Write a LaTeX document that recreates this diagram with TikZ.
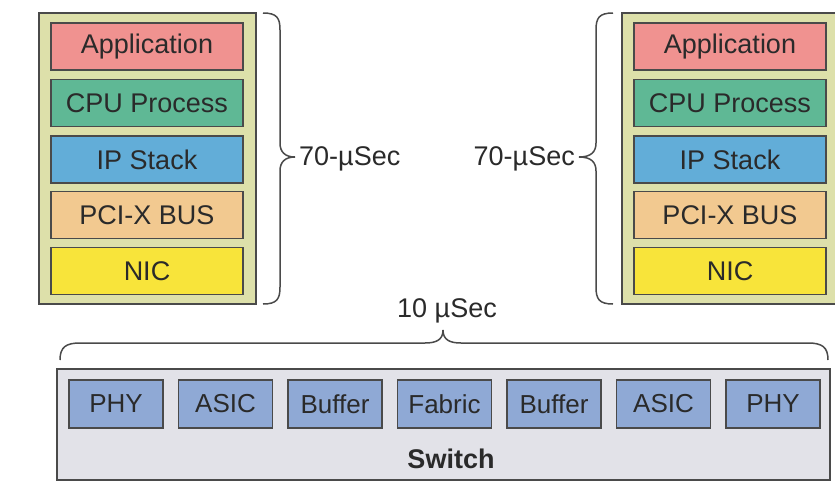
\documentclass[tikz,border=0pt]{standalone}
\usepackage{fontspec}
\setmainfont{Liberation Sans}
\definecolor{edge}{HTML}{4A4A4A}
\definecolor{stackbg}{HTML}{DDE0AA}
\definecolor{appc}{HTML}{F09290}
\definecolor{cpuc}{HTML}{5FB895}
\definecolor{ipc}{HTML}{62ADD8}
\definecolor{pcic}{HTML}{F2C990}
\definecolor{nicc}{HTML}{F8E43A}
\definecolor{swbg}{HTML}{E2E2E8}
\definecolor{swpart}{HTML}{8FA9D5}
\definecolor{txt}{HTML}{2A2A2A}
\tikzset{
  layer/.style={draw=edge, line width=1.6pt, minimum width=192pt, minimum height=47pt,
    inner sep=0pt, text=txt, font=\fontsize{27}{32}\selectfont},
  stackframe/.style={draw=edge, fill=stackbg, line width=1.6pt},
  part/.style={draw=edge, fill=swpart, line width=1.6pt, minimum width=94pt, minimum height=48pt,
    inner sep=0pt, text=txt, font=\fontsize{26}{31}\selectfont},
  bracepath/.style={draw=edge, line width=1.5pt},
  lbl/.style={text=txt, inner sep=0pt, font=\fontsize{27}{32}\selectfont}
}
\begin{document}
\begin{tikzpicture}[x=1pt, y=-1pt]
  \useasboundingbox (0,0) rectangle (835,493);

  % left host stack
  \draw[stackframe] (39,13) rectangle (256,304);
  \node[layer, fill=appc] (la) at (147,46.5) {Application};
  \node[layer, fill=cpuc] (lc) at (147,103) {CPU Process};
  \node[layer, fill=ipc]  (li) at (147,159.5) {IP Stack};
  \node[layer, fill=pcic] (lp) at (147,215) {PCI-X BUS};
  \node[layer, fill=nicc] (ln) at (147,271) {NIC};

  % right host stack (runs past the right edge)
  \draw[stackframe] (622,13) rectangle (845,304);
  \node[layer, fill=appc] (ra) at (730,46.5) {Application};
  \node[layer, fill=cpuc] (rc) at (730,103) {CPU Process};
  \node[layer, fill=ipc]  (ri) at (730,159.5) {IP Stack};
  \node[layer, fill=pcic] (rp) at (730,215) {PCI-X BUS};
  \node[layer, fill=nicc] (rn) at (730,271) {NIC};

  % host latency braces
  \draw[bracepath] (263,13) .. controls (277,13) and (280,18) .. (280,30)
    -- (280,143) .. controls (280,152) and (285,157) .. (295,157)
    .. controls (285,157) and (280,162) .. (280,171)
    -- (280,287) .. controls (280,299) and (277,304) .. (263,304);
  \node[lbl, anchor=west] (lt) at (299,159) {70-µSec};

  \draw[bracepath] (613,13) .. controls (599,13) and (596,18) .. (596,30)
    -- (596,143) .. controls (596,152) and (591,157) .. (579,157)
    .. controls (591,157) and (596,162) .. (596,171)
    -- (596,287) .. controls (596,299) and (599,304) .. (613,304);
  \node[lbl, anchor=east] (rt) at (575,159) {70-µSec};

  % switch latency brace
  \draw[bracepath] (60,360) .. controls (60,347) and (66,343) .. (80,343)
    -- (425,343) .. controls (436,343) and (443,340) .. (443,330)
    .. controls (443,340) and (450,343) .. (461,343)
    -- (808,343) .. controls (822,343) and (828,347) .. (828,360);
  \node[lbl] (st) at (447,311) {10 µSec};

  % switch
  \draw[draw=edge, fill=swbg, line width=1.6pt] (57,369) rectangle (830,480);
  \node[part] (p1) at (116,404) {PHY};
  \node[part] (p2) at (225.5,404) {ASIC};
  \node[part] (p3) at (335,404) {Buffer};
  \node[part] (p4) at (444.5,404) {Fabric};
  \node[part] (p5) at (554,404) {Buffer};
  \node[part] (p6) at (663.5,404) {ASIC};
  \node[part] (p7) at (773,404) {PHY};
  \node[lbl, font=\fontsize{27}{32}\selectfont\bfseries] (sw) at (451,459) {Switch};
\end{tikzpicture}
\end{document}
